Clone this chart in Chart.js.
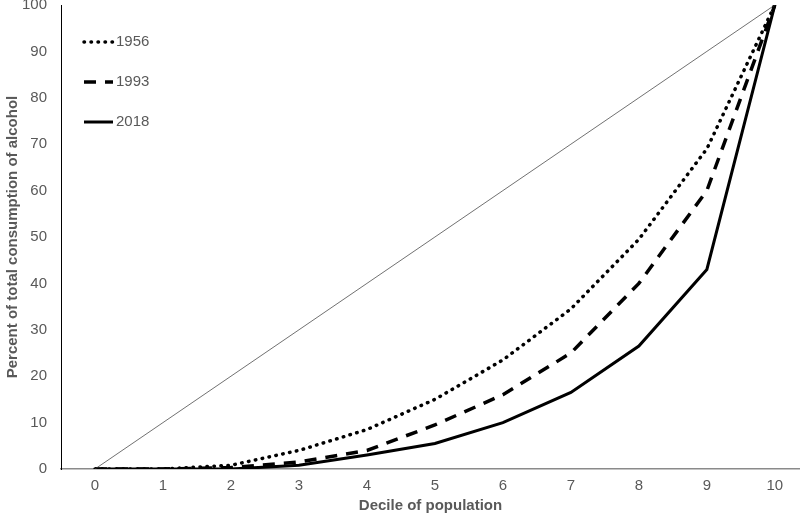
<!DOCTYPE html>
<html>
<head>
<meta charset="utf-8">
<script src="https://cdn.jsdelivr.net/npm/chart.js@4.4.1/dist/chart.umd.min.js"></script>
<style>
  html, body { margin: 0; padding: 0; background: #fff; }
  #wrap { width: 800px; height: 519px; }
</style>
</head>
<body>
<div id="wrap"><canvas id="lorenz" width="800" height="519"></canvas></div>
<script>
const deciles = [0, 1, 2, 3, 4, 5, 6, 7, 8, 9, 10];
const equality = [0, 10, 20, 30, 40, 50, 60, 70, 80, 90, 100];
const y1956 = [0, 0, 0.8, 4, 8.5, 15, 23.5, 34.5, 49.5, 69, 100];
const y1993 = [0, 0, 0.3, 1.5, 4, 9.5, 16, 25, 40, 60, 100];
const y2018 = [0, 0, 0, 0.8, 3, 5.5, 10, 16.5, 26.5, 43, 100];
const yTicks = [0, 10, 20, 30, 40, 50, 60, 70, 80, 90, 100];

const pts = arr => arr.map((v, i) => ({ x: deciles[i], y: v }));
const gray = '#595959';
const font = 'Liberation Sans, Arial, sans-serif';

// legend drawn in the top-left of the plot, one entry per row
const legendPlugin = {
    id: 'leftLegend',
    afterDraw(chart) {
        const ctx = chart.ctx;
        const rows = [1, 2, 3];
        rows.forEach((di, i) => {
            const ds = chart.data.datasets[di];
            const y = 42 + i * 40;
            ctx.save();
            ctx.strokeStyle = ds.borderColor;
            ctx.lineWidth = ds.borderWidth;
            ctx.lineCap = ds.borderCapStyle || 'butt';
            ctx.setLineDash(ds.borderDash || []);
            ctx.beginPath();
            ctx.moveTo(84, y);
            ctx.lineTo(113, y);
            ctx.stroke();
            ctx.setLineDash([]);
            ctx.fillStyle = gray;
            ctx.font = '15px ' + font;
            ctx.textBaseline = 'middle';
            ctx.fillText(ds.label, 116, y);
            ctx.restore();
        });
    }
};

new Chart(document.getElementById('lorenz'), {
    type: 'line',
    data: {
        datasets: [
            { label: 'Equality', data: pts(equality), borderColor: '#333', borderWidth: 0.7, pointRadius: 0 },
            { label: '1956', data: pts(y1956), borderColor: '#000', borderWidth: 3.5, borderDash: [0.5, 6.5], borderCapStyle: 'round', pointRadius: 0 },
            { label: '1993', data: pts(y1993), borderColor: '#000', borderWidth: 3.5, borderDash: [12, 9], pointRadius: 0 },
            { label: '2018', data: pts(y2018), borderColor: '#000', borderWidth: 3, pointRadius: 0 }
        ]
    },
    options: {
        responsive: false,
        animation: false,
        layout: { padding: { top: 5, left: 0, right: 0, bottom: 0 } },
        plugins: { legend: { display: false }, tooltip: { enabled: false } },
        scales: {
            x: {
                type: 'linear',
                min: -0.5,
                max: 10.37,
                afterBuildTicks: s => { s.ticks = deciles.map(v => ({ value: v })); },
                afterFit: s => { s.height = 50; s.paddingLeft = 0; s.paddingRight = 0; },
                grid: { display: false, drawTicks: false },
                border: { color: '#8a8a8a', width: 1.5 },
                ticks: { color: gray, font: { size: 15, family: font }, padding: 8 },
                title: { display: true, text: 'Decile of population', color: gray,
                         font: { size: 15, weight: 'bold', family: font }, padding: { top: 2 } }
            },
            y: {
                min: 0,
                max: 100,
                afterBuildTicks: s => { s.ticks = yTicks.map(v => ({ value: v })); },
                afterFit: s => { s.width = 61; s.paddingTop = 0; s.paddingBottom = 0; },
                grid: { display: false, drawTicks: false },
                border: { color: '#000', width: 1 },
                ticks: { color: gray, font: { size: 15, family: font }, padding: 14 },
                title: { display: true, text: 'Percent of total consumption of alcohol', color: gray,
                         font: { size: 15, weight: 'bold', family: font }, padding: { bottom: 0 } }
            }
        }
    },
    plugins: [legendPlugin]
});
</script>
</body>
</html>
